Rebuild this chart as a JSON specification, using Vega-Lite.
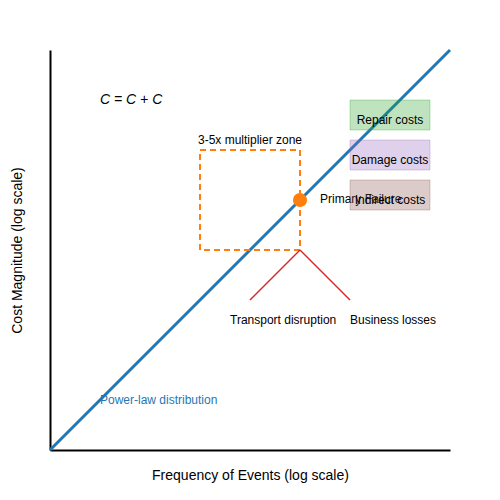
{
  "$schema": "https://vega.github.io/schema/vega-lite/v6.json",
  "width": 400,
  "height": 400,
  "autosize": {"type": "none"},
  "padding": {"left": 50, "top": 50, "right": 50, "bottom": 50},
  "background": "white",
  "datasets": {
    "curve": [{"f": 0, "c": 0}, {"f": 400, "c": 400}],
    "zone": [{"x1": 150, "x2": 250, "y1": 200, "y2": 300}],
    "failure": [{"f": 250, "c": 250}],
    "branches": [
      {"x1": 250, "y1": 200, "x2": 200, "y2": 150},
      {"x1": 250, "y1": 200, "x2": 300, "y2": 150}
    ],
    "boxes": [
      {"label": "Repair costs", "x1": 300, "x2": 380, "y1": 320, "y2": 350, "tx": 340, "ty": 330, "kind": "repair"},
      {"label": "Damage costs", "x1": 300, "x2": 380, "y1": 280, "y2": 310, "tx": 340, "ty": 290, "kind": "damage"},
      {"label": "Indirect costs", "x1": 300, "x2": 380, "y1": 240, "y2": 270, "tx": 340, "ty": 250, "kind": "indirect"}
    ],
    "notes": [
      {"text": "Primary Failure", "x": 270, "y": 251},
      {"text": "Transport disruption", "x": 180, "y": 130},
      {"text": "Business losses", "x": 300, "y": 130}
    ],
    "zonelabel": [{"text": "3-5x multiplier zone", "x": 200, "y": 310}],
    "powerlaw": [{"text": "Power-law distribution", "x": 50, "y": 50}],
    "formula": [{"text": "C = C + C", "x": 50, "y": 350}]
  },
  "layer": [
    {
      "data": {"name": "curve"},
      "mark": {"type": "line", "color": "#1f77b4", "strokeWidth": 3},
      "encoding": {
        "x": {"field": "f", "type": "quantitative", "scale": {"domain": [0, 400], "nice": false},
          "axis": {"title": "Frequency of Events (log scale)", "labels": false, "ticks": false, "grid": false, "domainColor": "black", "domainWidth": 2, "titlePadding": 18, "titleFontSize": 14, "titleFontWeight": "normal", "titleFont": "Liberation Sans", "titleColor": "black"}},
        "y": {"field": "c", "type": "quantitative", "scale": {"domain": [0, 400], "nice": false},
          "axis": {"title": "Cost Magnitude (log scale)", "labels": false, "ticks": false, "grid": false, "domainColor": "black", "domainWidth": 2, "titlePadding": 26, "titleFontSize": 14, "titleFontWeight": "normal", "titleFont": "Liberation Sans", "titleColor": "black"}}
      }
    },
    {
      "data": {"name": "zone"},
      "mark": {"type": "rect", "fill": "transparent", "stroke": "#ff7f0e", "strokeWidth": 2, "strokeDash": [6, 4]},
      "encoding": {
        "x": {"field": "x1", "type": "quantitative"},
        "x2": {"field": "x2"},
        "y": {"field": "y1", "type": "quantitative"},
        "y2": {"field": "y2"}
      }
    },
    {
      "data": {"name": "branches"},
      "mark": {"type": "rule", "color": "#d62728", "strokeWidth": 1.5},
      "encoding": {
        "x": {"field": "x1", "type": "quantitative"},
        "x2": {"field": "x2"},
        "y": {"field": "y1", "type": "quantitative"},
        "y2": {"field": "y2"}
      }
    },
    {
      "data": {"name": "failure"},
      "mark": {"type": "point", "filled": true, "shape": "circle", "color": "#ff7f0e", "size": 200, "opacity": 1},
      "encoding": {
        "x": {"field": "f", "type": "quantitative"},
        "y": {"field": "c", "type": "quantitative"}
      }
    },
    {
      "data": {"name": "notes"},
      "mark": {"type": "text", "font": "Liberation Sans", "fontSize": 12, "align": "left", "color": "black"},
      "encoding": {
        "x": {"field": "x", "type": "quantitative"},
        "y": {"field": "y", "type": "quantitative"},
        "text": {"field": "text"}
      }
    },
    {
      "data": {"name": "zonelabel"},
      "mark": {"type": "text", "font": "Liberation Sans", "fontSize": 12, "align": "center", "color": "black"},
      "encoding": {
        "x": {"field": "x", "type": "quantitative"},
        "y": {"field": "y", "type": "quantitative"},
        "text": {"field": "text"}
      }
    },
    {
      "data": {"name": "powerlaw"},
      "mark": {"type": "text", "font": "Liberation Sans", "fontSize": 12, "align": "left", "color": "#1f77b4"},
      "encoding": {
        "x": {"field": "x", "type": "quantitative"},
        "y": {"field": "y", "type": "quantitative"},
        "text": {"field": "text"}
      }
    },
    {
      "data": {"name": "boxes"},
      "mark": {"type": "rect", "fillOpacity": 0.3, "strokeOpacity": 0.3, "strokeWidth": 1},
      "encoding": {
        "x": {"field": "x1", "type": "quantitative"},
        "x2": {"field": "x2"},
        "y": {"field": "y1", "type": "quantitative"},
        "y2": {"field": "y2"},
        "fill": {"field": "kind", "type": "nominal", "legend": null, "scale": {"domain": ["repair", "damage", "indirect"], "range": ["#2ca02c", "#9467bd", "#8c564b"]}},
        "stroke": {"field": "kind", "type": "nominal", "legend": null, "scale": {"domain": ["repair", "damage", "indirect"], "range": ["#2ca02c", "#9467bd", "#8c564b"]}}
      }
    },
    {
      "data": {"name": "boxes"},
      "mark": {"type": "text", "font": "Liberation Sans", "fontSize": 12, "color": "black", "align": "center"},
      "encoding": {
        "x": {"field": "tx", "type": "quantitative"},
        "y": {"field": "ty", "type": "quantitative"},
        "text": {"field": "label"}
      }
    },
    {
      "data": {"name": "formula"},
      "mark": {"type": "text", "font": "Liberation Sans", "fontSize": 14, "fontStyle": "italic", "align": "left", "color": "black"},
      "encoding": {
        "x": {"field": "x", "type": "quantitative"},
        "y": {"field": "y", "type": "quantitative"},
        "text": {"field": "text"}
      }
    }
  ],
  "config": {
    "view": {"stroke": null},
    "font": "Liberation Sans"
  }
}
